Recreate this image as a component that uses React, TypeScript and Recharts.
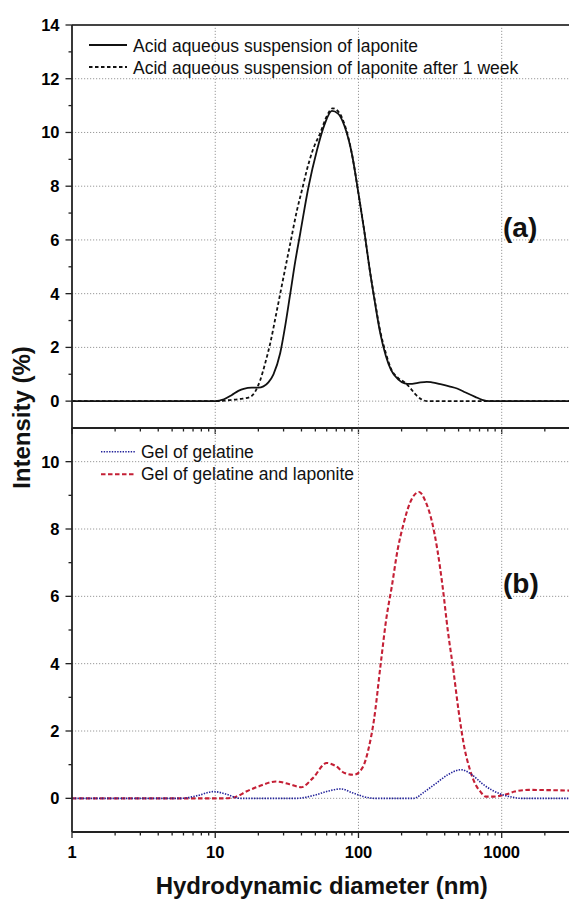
import { Line, LineChart, ReferenceLine, XAxis, YAxis } from 'recharts'

// hydrodynamic diameter (nm), intensity (%)
const acidFresh: [number, number][] = [
  [1, 0], [5, 0], [10, 0], [11.5, 0.07], [13, 0.22], [14.5, 0.38], [15.8, 0.46],
  [18, 0.5], [20, 0.5], [21.7, 0.55], [23.5, 0.7], [25.5, 1.0], [28.4, 1.78],
  [30.8, 2.8], [33.4, 4.0], [36.2, 5.2], [39.2, 6.24], [44.8, 7.98], [51.3, 9.34],
  [58, 10.3], [65.2, 10.8], [72, 10.7], [79.5, 10.27], [90, 9.2], [100, 7.73],
  [110, 6.3], [119, 5.0], [130, 3.7], [142, 2.52], [155, 1.7], [169, 1.15],
  [190, 0.8], [210, 0.66], [229, 0.64], [260, 0.68], [300, 0.72], [325, 0.7],
  [380, 0.62], [430, 0.55], [488, 0.47], [560, 0.32], [653, 0.16], [730, 0.05],
  [824, 0], [1500, 0], [2950, 0],
]

const acidWeek: [number, number][] = [
  [1, 0], [5, 0], [10, 0], [12.7, 0.04], [15, 0.08], [17.5, 0.15], [19, 0.35],
  [20.6, 0.78], [22.3, 1.4], [24.2, 2.15], [27, 3.4], [30, 4.63], [33.5, 5.9],
  [37.2, 7.1], [40.5, 7.9], [43.6, 8.6], [48, 9.35], [54, 9.97], [60, 10.6],
  [66, 10.9], [73, 10.75], [80, 10.3], [90, 9.2], [100, 7.73], [110, 6.3],
  [119, 5.0], [130, 3.75], [142, 2.6], [155, 1.8], [169, 1.2], [190, 0.85],
  [210, 0.7], [229, 0.5], [250, 0.25], [275, 0.07], [303, 0], [1500, 0], [2950, 0],
]

const gelatine: [number, number][] = [
  [1, 0], [5.8, 0], [7.5, 0.08], [9.8, 0.2], [12, 0.12], [14.8, 0], [37, 0],
  [50, 0.1], [62, 0.22], [75.5, 0.28], [90, 0.17], [114, 0.03], [130, 0],
  [243, 0], [290, 0.2], [344, 0.43], [420, 0.7], [520, 0.85], [620, 0.7],
  [734, 0.43], [850, 0.25], [980, 0.13], [1200, 0.03], [1350, 0], [2950, 0],
]

const gelatineLaponite: [number, number][] = [
  [1, 0], [6, 0], [11.7, 0], [14, 0.05], [16.6, 0.21], [20, 0.35], [26.5, 0.5],
  [33, 0.42], [39.8, 0.33], [48, 0.6], [60, 1.05], [70, 0.95], [80, 0.75],
  [93, 0.7], [107, 0.92], [118, 1.5], [128, 2.3], [143, 4.0], [156, 5.3],
  [171, 6.3], [188, 7.4], [204, 8.07], [230, 8.8], [265, 9.1], [295, 8.8],
  [324, 8.26], [355, 7.4], [387, 6.28], [420, 5.0], [460, 3.8], [500, 2.6],
  [548, 1.52], [600, 0.85], [653, 0.43], [710, 0.2], [777, 0.05], [880, 0.05],
  [980, 0.08], [1100, 0.13], [1230, 0.2], [1550, 0.25], [2950, 0.23],
]

const xMajor = [1, 10, 100, 1000]
const xMinor = [2, 3, 4, 5, 6, 7, 8, 9, 20, 30, 40, 50, 60, 70, 80, 90, 200, 300, 400, 500, 600, 700, 800, 900, 2000]
const xTicks = [...xMajor, ...xMinor].sort((a, b) => a - b)
const xGrid = [10, 100, 1000]
const xDomain = [1, 2950]

const topYTicks = [0, 1, 2, 3, 4, 5, 6, 7, 8, 9, 10, 11, 12, 13, 14]
const topYGrid = [0, 2, 4, 6, 8, 10, 12]
const bottomYTicks = [0, 1, 2, 3, 4, 5, 6, 7, 8, 9, 10]
const bottomYGrid = [0, 2, 4, 6, 8, 10]

const toPoints = (rows: [number, number][]) => rows.map(([d, v]) => ({ d, v }))

const font = '"Liberation Sans", Arial, Helvetica, sans-serif'
const axisColor = '#222'
const gridColor = '#9a9a9a'
const blue = '#22229a'
const red = '#c41f35'

function XTick(props: any) {
  const { x, y, payload, showLabel } = props
  const major = xMajor.includes(payload.value)
  return (
    <g>
      <line x1={x} x2={x} y1={y} y2={y + (major ? 6 : 3.5)} stroke={axisColor} strokeWidth={1.3} />
      {showLabel && major && (
        <text x={x} y={y + 25.5} textAnchor="middle" fontFamily={font} fontWeight="bold" fontSize={16.5} fill="#000">
          {payload.value}
        </text>
      )}
    </g>
  )
}

function YTick(props: any) {
  const { x, y, payload } = props
  const major = payload.value % 2 === 0
  return (
    <g>
      <line x1={x - (major ? 6.5 : 3.5)} x2={x} y1={y} y2={y} stroke={axisColor} strokeWidth={1.3} />
      {major && (
        <text x={x - 12.5} y={y} dy="0.36em" textAnchor="end" fontFamily={font} fontWeight="bold" fontSize={16.5} fill="#000">
          {payload.value}
        </text>
      )}
    </g>
  )
}

function gridLines(yValues: number[]) {
  return [
    ...xGrid.map((v) => (
      <ReferenceLine key={`gx${v}`} x={v} stroke={gridColor} strokeWidth={1} strokeDasharray="1.2 1.8" />
    )),
    ...yValues.map((v) => (
      <ReferenceLine key={`gy${v}`} y={v} stroke={gridColor} strokeWidth={1} strokeDasharray="1.2 1.8" />
    )),
  ]
}

function App() {
  return (
    <div style={{ position: 'absolute', left: 0, top: 0, width: 569, height: 899, background: '#fff' }}>
      <div style={{ position: 'absolute', left: 0, top: 0 }}>
        <LineChart width={569} height={440} margin={{ top: 25, right: 0, bottom: 11, left: 0 }}>
          <XAxis
            dataKey="d"
            type="number"
            scale="log"
            domain={xDomain}
            ticks={xTicks}
            interval={0}
            height={1}
            tickSize={0}
            tickMargin={0}
            tickLine={false}
            tick={(p: any) => <XTick {...p} showLabel={false} />}
            axisLine={{ stroke: axisColor, strokeWidth: 1.8 }}
            allowDataOverflow
          />
          <YAxis
            type="number"
            domain={[-1, 14]}
            ticks={topYTicks}
            interval={0}
            width={72}
            tickSize={0}
            tickMargin={0}
            tickLine={false}
            tick={(p: any) => <YTick {...p} />}
            axisLine={{ stroke: axisColor, strokeWidth: 1.8 }}
          />
          {gridLines(topYGrid)}
          <ReferenceLine y={14} stroke="#444" strokeWidth={2.2} />
          <Line
            data={toPoints(acidWeek)}
            dataKey="v"
            type="monotone"
            stroke="#111"
            strokeWidth={1.8}
            strokeDasharray="3.5 2.5"
            dot={false}
            isAnimationActive={false}
            name="Acid aqueous suspension of laponite after 1 week"
          />
          <Line
            data={toPoints(acidFresh)}
            dataKey="v"
            type="monotone"
            stroke="#111"
            strokeWidth={1.8}
            dot={false}
            isAnimationActive={false}
            name="Acid aqueous suspension of laponite"
          />
        </LineChart>
      </div>
      <div style={{ position: 'absolute', left: 0, top: 0 }}>
        <LineChart width={569} height={899} margin={{ top: 428, right: 0, bottom: 66, left: 0 }}>
          <XAxis
            dataKey="d"
            type="number"
            scale="log"
            domain={xDomain}
            ticks={xTicks}
            interval={0}
            height={1}
            tickSize={0}
            tickMargin={0}
            tickLine={false}
            tick={(p: any) => <XTick {...p} showLabel />}
            axisLine={{ stroke: axisColor, strokeWidth: 1.8 }}
            allowDataOverflow
          />
          <YAxis
            type="number"
            domain={[-1, 11]}
            ticks={bottomYTicks}
            interval={0}
            width={72}
            tickSize={0}
            tickMargin={0}
            tickLine={false}
            tick={(p: any) => <YTick {...p} />}
            axisLine={{ stroke: axisColor, strokeWidth: 1.8 }}
          />
          {gridLines(bottomYGrid)}
          <Line
            data={toPoints(gelatineLaponite)}
            dataKey="v"
            type="monotone"
            stroke={red}
            strokeWidth={2.1}
            strokeDasharray="4.5 2.5"
            dot={false}
            isAnimationActive={false}
            name="Gel of gelatine and laponite"
          />
          <Line
            data={toPoints(gelatine)}
            dataKey="v"
            type="monotone"
            stroke={blue}
            strokeWidth={1.6}
            strokeDasharray="1.4 1.3"
            dot={false}
            isAnimationActive={false}
            name="Gel of gelatine"
          />
        </LineChart>
      </div>
      <svg width={569} height={899} style={{ position: 'absolute', left: 0, top: 0, pointerEvents: 'none' }}>
        <g fontFamily={font} fill="#111">
          <line x1={89} x2={127} y1={45} y2={45} stroke="#111" strokeWidth={1.8} />
          <text x={133} y={51.5} fontSize={17.5}>Acid aqueous suspension of laponite</text>
          <line x1={89} x2={127} y1={67} y2={67} stroke="#111" strokeWidth={1.8} strokeDasharray="3.5 2.5" />
          <text x={133} y={73.5} fontSize={17.5}>Acid aqueous suspension of laponite after 1 week</text>

          <line x1={101} x2={136} y1={451.7} y2={451.7} stroke={blue} strokeWidth={1.6} strokeDasharray="1.4 1.3" />
          <text x={141} y={457.7} fontSize={17.5}>Gel of gelatine</text>
          <line x1={101} x2={136} y1={474.3} y2={474.3} stroke={red} strokeWidth={2.1} strokeDasharray="4.5 2.5" />
          <text x={141} y={480} fontSize={17.5}>Gel of gelatine and laponite</text>

          <text x={503} y={236.5} fontSize={28} fontWeight="bold">(a)</text>
          <text x={503} y={593} fontSize={28} fontWeight="bold">(b)</text>

          <text x={321.7} y={894} fontSize={24} fontWeight="bold" textAnchor="middle">
            Hydrodynamic diameter (nm)
          </text>
          <text
            transform="translate(29.5, 417.5) rotate(-90)"
            fontSize={24}
            fontWeight="bold"
            textAnchor="middle"
          >
            Intensity (%)
          </text>
        </g>
      </svg>
    </div>
  )
}

export default App
